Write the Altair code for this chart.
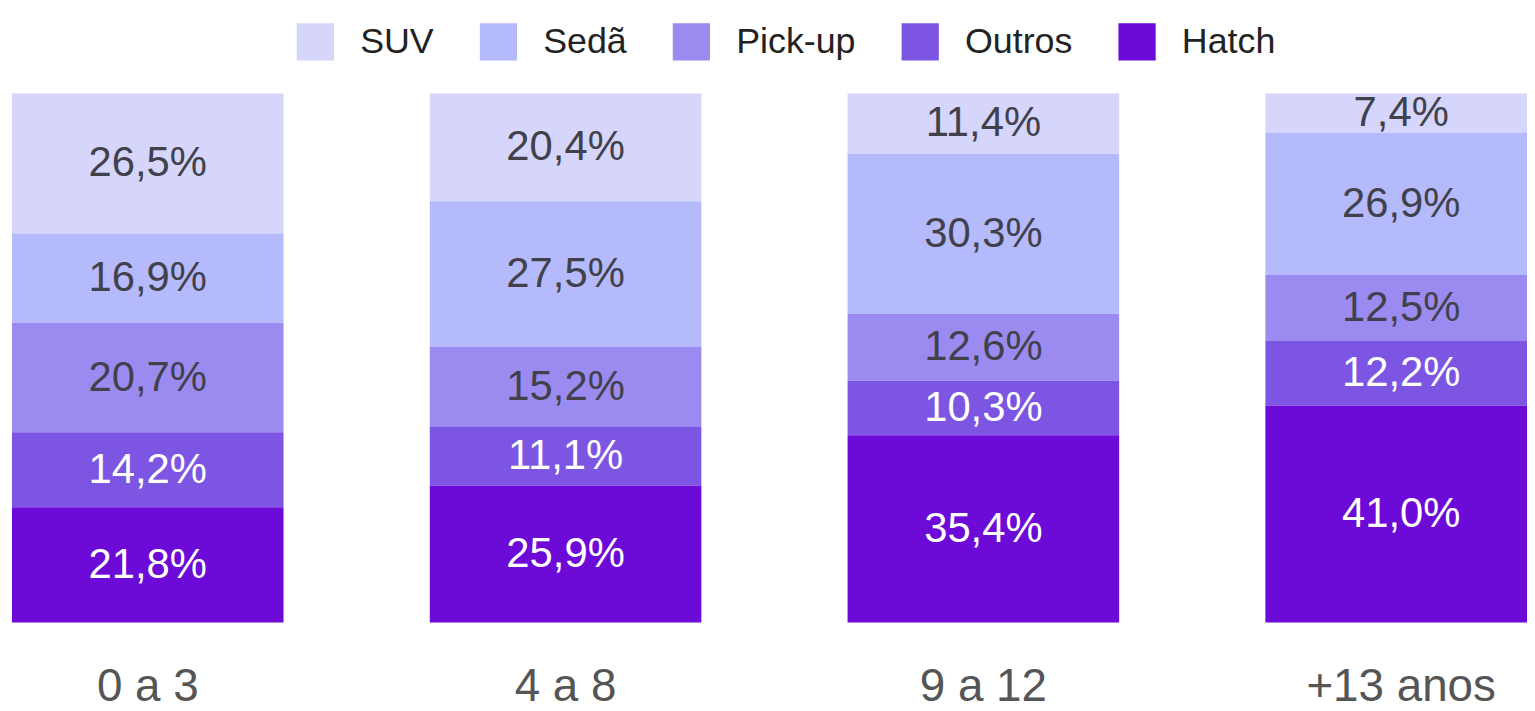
import altair as alt
import pandas as pd

ages = ["0 a 3", "4 a 8", "9 a 12", "+13 anos"]
types = ["SUV", "Sedã", "Pick-up", "Outros", "Hatch"]
suv = [26.5, 20.4, 11.4, 7.4]
seda = [16.9, 27.5, 30.3, 26.9]
pickup = [20.7, 15.2, 12.6, 12.5]
outros = [14.2, 11.1, 10.3, 12.2]
hatch = [21.8, 25.9, 35.4, 41.0]
colors = ["#d6d6fc", "#b5bafc", "#9b8bf0", "#7d55e3", "#6c0ad8"]

series = {"SUV": suv, "Sedã": seda, "Pick-up": pickup, "Outros": outros, "Hatch": hatch}
rows = []
for t in types:
    for a, v in zip(ages, series[t]):
        rows.append({
            "age": a,
            "type": t,
            "value": v,
            "rank": len(types) - types.index(t),
            "label": f"{v:.1f}".replace(".", ",") + "%",
        })
df = pd.DataFrame(rows)

FONT = "Liberation Sans"

base = alt.Chart(df).transform_stack(
    stack="value",
    groupby=["age"],
    as_=["y0", "y1"],
    offset="normalize",
    sort=[alt.SortField("rank", order="ascending")],
).transform_calculate(mid="(datum.y0 + datum.y1) / 2")

xenc = alt.X(
    "age:N",
    sort=ages,
    scale=alt.Scale(paddingInner=0.35, paddingOuter=0.0095),
    axis=alt.Axis(
        title=None, labelAngle=0, ticks=False, tickSize=0, domain=False,
        labelFontSize=46, labelFont=FONT, labelColor="#555555",
        labelBaseline="alphabetic", labelPadding=78,
        labelLimit=500,
    ),
)
yscale = alt.Scale(domain=[0, 1])

bars = base.mark_bar().encode(
    x=xenc,
    y=alt.Y("y0:Q", scale=yscale, axis=None),
    y2="y1:Q",
    color=alt.Color(
        "type:N",
        scale=alt.Scale(domain=types, range=colors),
        legend=alt.Legend(
            title=None, orient="none", direction="horizontal", columns=5,
            legendX=290, legendY=-71,
            symbolType="square", symbolSize=1400, symbolStrokeWidth=0,
            symbolOpacity=1,
            labelFont=FONT, labelFontSize=36, labelColor="#222222",
            labelOffset=26, columnPadding=45, labelLimit=300,
        ),
    ),
)

texts = base.mark_text(font=FONT, fontSize=42, baseline="middle").encode(
    x=alt.X("age:N", sort=ages),
    y=alt.Y("mid:Q", scale=yscale),
    text="label:N",
    color=alt.condition(
        "datum.type === 'Outros' || datum.type === 'Hatch'",
        alt.value("#ffffff"),
        alt.value("#41414c"),
    ),
)

chart = alt.layer(bars, texts).properties(
    width=1541,
    height=532,
    padding={"left": 0, "right": -14, "top": 84, "bottom": 87},
    autosize=alt.AutoSizeParams(type="none"),
    background="white",
).configure_view(stroke=None)

chart.save("out.html", embed_options={"renderer": "svg", "actions": False})
